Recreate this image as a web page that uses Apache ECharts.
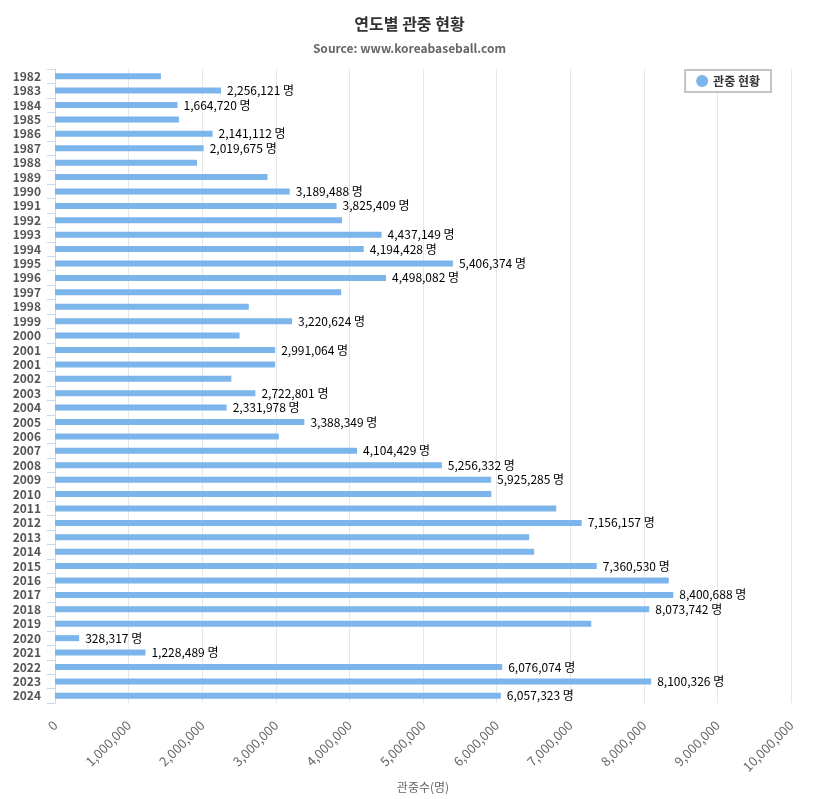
<!DOCTYPE html>
<html>
<head>
<meta charset="utf-8">
<script src="https://cdn.jsdelivr.net/npm/echarts@6/dist/echarts.min.js"></script>
<style>html,body{margin:0;padding:0;background:#fff;}#c{width:819px;height:799px;}</style>
</head>
<body>
<div id="c"></div>
<script>
const years = ['1982','1983','1984','1985','1986','1987','1988','1989','1990','1991','1992','1993','1994','1995','1996','1997','1998','1999','2000','2001','2001','2002','2003','2004','2005','2006','2007','2008','2009','2010','2011','2012','2013','2014','2015','2016','2017','2018','2019','2020','2021','2022','2023','2024'];
const attendance = [1438768,2256121,1664720,1684013,2141112,2019675,1929683,2887583,3189488,3825409,3900000,4437149,4194428,5406374,4498082,3888000,2633196,3220624,2507549,2991064,2991064,2395950,2722801,2331978,3388349,3040254,4104429,5256332,5925285,5928626,6810028,7156157,6441945,6509915,7360530,8339577,8400688,8073742,7286008,328317,1228489,6076074,8100326,6057323];
const labeled = [0,1,1,0,1,1,0,0,1,1,0,1,1,1,1,0,0,1,0,1,0,0,1,1,1,0,1,1,1,0,0,1,0,0,1,0,1,1,0,1,1,1,1,1];
const xTicks = {min: 0, max: 10000000, interval: 1000000};

const font = '"Noto Sans CJK KR", "Noto Sans", sans-serif';
const chart = echarts.init(document.getElementById('c'));
chart.setOption({
  animation: false,
  textStyle: {fontFamily: font},
  title: {
    text: '연도별 관중 현황',
    subtext: 'Source: www.koreabaseball.com',
    left: 'center', top: 11, itemGap: 10,
    textStyle: {fontSize: 16, fontWeight: 'bold', color: '#333333', fontFamily: font},
    subtextStyle: {fontSize: 12, color: '#666666', fontWeight: 'bold', fontFamily: font}
  },
  legend: {
    right: 48, top: 70,
    icon: 'circle', itemWidth: 12, itemHeight: 12,
    borderColor: '#c4c4c4', borderWidth: 2, padding: [5, 11],
    backgroundColor: '#fff',
    textStyle: {fontWeight: 'bold', fontSize: 12, color: '#333333', fontFamily: font}
  },
  grid: {left: 55, right: 28, top: 69, bottom: 96, containLabel: false, outerBoundsMode: 'none'},
  xAxis: {
    type: 'value', min: xTicks.min, max: xTicks.max, interval: xTicks.interval,
    name: '관중수(명)', nameLocation: 'middle', nameGap: 78,
    nameTextStyle: {color: '#666666', fontSize: 12, fontFamily: font},
    axisLine: {show: false}, axisTick: {show: false},
    axisLabel: {rotate: 45, margin: 20, color: '#666666', fontSize: 13, fontFamily: font,
      formatter: v => v.toLocaleString('en-US')},
    splitLine: {show: true, lineStyle: {color: '#e6e6e6', width: 1}}
  },
  yAxis: {
    type: 'category', data: years, inverse: true,
    axisLine: {show: true, lineStyle: {color: '#ccd6eb'}},
    axisTick: {show: true, length: 8, lineStyle: {color: '#ccd6eb'}},
    axisLabel: {color: '#555555', fontSize: 12, fontWeight: 'bold', margin: 14, fontFamily: font, interval: 0},
    splitLine: {show: false}
  },
  series: [{
    name: '관중 현황', type: 'bar',
    barWidth: 6,
    itemStyle: {color: '#7cb5ec'},
    data: attendance.map((v, i) => ({
      value: v,
      label: {show: !!labeled[i]}
    })),
    label: {
      position: 'right', distance: 6, color: '#000000', fontSize: 12, fontFamily: font,
      formatter: p => p.value.toLocaleString('en-US') + ' 명'
    }
  }]
});
</script>
</body>
</html>
